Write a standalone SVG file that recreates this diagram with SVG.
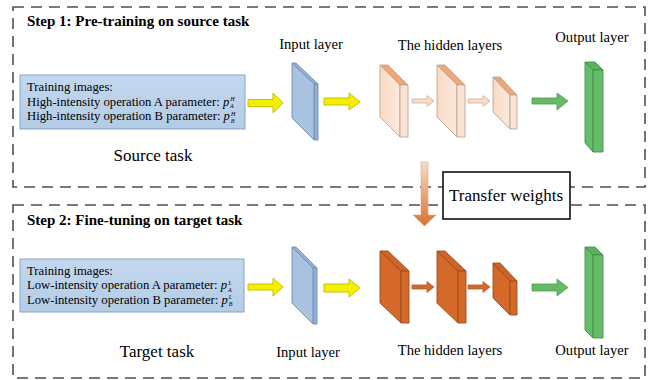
<svg xmlns="http://www.w3.org/2000/svg" width="654" height="380" viewBox="0 0 654 380">
  <defs>
    <linearGradient id="gBox" x1="0" y1="0" x2="0" y2="1">
      <stop offset="0" stop-color="#c3d8ee"/>
      <stop offset="1" stop-color="#b3cce6"/>
    </linearGradient>
    <linearGradient id="gPeach" x1="0" y1="0" x2="1" y2="0">
      <stop offset="0" stop-color="#f9d9c4"/>
      <stop offset="1" stop-color="#fce9dc"/>
    </linearGradient>
    <linearGradient id="gTransfer" x1="0" y1="0" x2="0" y2="1">
      <stop offset="0" stop-color="#f8dcc6"/>
      <stop offset="1" stop-color="#d8722c"/>
    </linearGradient>
  </defs>
  <style>
    text { font-family: "Liberation Serif", "Times New Roman", "DejaVu Serif", serif; fill: #000; }
    .frame { fill: none; stroke: #4f4f4f; stroke-width: 1.6; stroke-dasharray: 11 7; }
    .title { font-weight: bold; font-size: 15px; }
    .lbl { font-size: 14.6px; text-anchor: middle; }
    .task { font-size: 17px; text-anchor: middle; }
    .small { font-size: 12.7px; }
    .it { font-style: italic; }
    .sup { font-style: italic; font-size: 6px; }
    .databox { fill: url(#gBox); stroke: #86a5c8; stroke-width: 1; }
    .inp { fill: #a8c2e0; stroke: #6d8db2; stroke-width: 0.9; stroke-linejoin: round; }
    .inpSide { fill: #93b1d6; stroke: #6d8db2; stroke-width: 0.9; stroke-linejoin: round; }
    .peach { fill: url(#gPeach); stroke: #b9a595; stroke-width: 0.9; stroke-linejoin: round; }
    .peachTop { fill: #f1a774; stroke: #b9a595; stroke-width: 0.9; stroke-linejoin: round; }
    .peachSide { fill: #fbe4d5; stroke: #b9a595; stroke-width: 0.9; stroke-linejoin: round; }
    .org { fill: #d4692a; stroke: #9d4d1d; stroke-width: 0.9; stroke-linejoin: round; }
    .orgTop { fill: #cf6426; stroke: #9d4d1d; stroke-width: 0.9; stroke-linejoin: round; }
    .green { fill: #66bd69; stroke: #4a8c4d; stroke-width: 0.9; stroke-linejoin: round; }
    .greenTop { fill: #5bb25e; stroke: #4a8c4d; stroke-width: 0.9; stroke-linejoin: round; }
    .yel { fill: #f4ef00; stroke: #c9c200; stroke-width: 1; }
    .parrow { fill: #f8dcc8; stroke: #d9bba5; stroke-width: 1; }
    .oarrow { fill: #d4692a; stroke: #b65a22; stroke-width: 0.8; }
    .garrow { fill: #63bb66; stroke: #4f9a52; stroke-width: 0.8; }
  </style>

  <!-- step frames -->
  <g id="frames">
    <rect class="frame" x="13" y="7" width="632" height="180"/>
    <rect class="frame" x="13" y="205" width="632" height="173"/>
  </g>

  <!-- Step 1 -->
  <g id="step1-title">
    <text class="title" x="27" y="26">Step 1: Pre-training on source task</text>
  </g>

  <g id="source-data">
    <rect class="databox" x="20" y="75" width="225" height="54"/>
    <text class="small" x="27" y="91">Training images:</text>
    <text class="small" x="27" y="105.5">High-intensity operation A parameter: <tspan class="it">p</tspan><tspan class="sup" dx="1" dy="-4.5">H</tspan><tspan class="sup" dx="-4.5" dy="7">A</tspan></text>
    <text class="small" x="27" y="120">High-intensity operation B parameter: <tspan class="it">p</tspan><tspan class="sup" dx="1" dy="-4.5">H</tspan><tspan class="sup" dx="-4.5" dy="7">B</tspan></text>
    <text class="task" x="153" y="161">Source task</text>
  </g>

  <g id="source-input">
    <text class="lbl" x="311" y="49">Input layer</text>
    <polygon class="inpSide" points="292,63 296,63 318,84 314,84"/>
    <polygon class="inpSide" points="314,84 318,84 318,140 314,140"/>
    <polygon class="inp" points="292,63 314,84 314,140 292,118"/>
  </g>

  <g id="source-hidden">
    <text class="lbl" x="450" y="50">The hidden layers</text>
    <polygon class="peach" points="380,65 400,85 400,137 380,117"/>
    <polygon class="peachTop" points="380,65 388,65 408,85 400,85"/>
    <polygon class="peachSide" points="400,85 408,85 408,137 400,137"/>

    <polygon class="peach" points="437,65 457,85 457,137 437,117"/>
    <polygon class="peachTop" points="437,65 445,65 465,85 457,85"/>
    <polygon class="peachSide" points="457,85 465,85 465,137 457,137"/>

    <polygon class="peach" points="493,77 510,95 510,129 493,112"/>
    <polygon class="peachTop" points="493,77 500,77 517,95 510,95"/>
    <polygon class="peachSide" points="510,95 517,95 517,129 510,129"/>
  </g>

  <g id="source-output">
    <text class="lbl" x="592" y="42">Output layer</text>
    <polygon class="green" points="585,62 593,70 593,152 585,143"/>
    <polygon class="greenTop" points="585,62 595,62 603,70 593,70"/>
    <polygon class="green" points="593,70 603,70 603,152 593,152"/>
  </g>

  <!-- Step 2 -->
  <g id="step2-title">
    <text class="title" x="27" y="225">Step 2: Fine-tuning on target task</text>
  </g>

  <g id="target-data">
    <rect class="databox" x="20" y="259" width="224" height="53"/>
    <text class="small" x="27" y="274.5">Training images:</text>
    <text class="small" x="27" y="289">Low-intensity operation A parameter: <tspan class="it">p</tspan><tspan class="sup" dx="1" dy="-4.5">L</tspan><tspan class="sup" dx="-3.5" dy="7">A</tspan></text>
    <text class="small" x="27" y="303.5">Low-intensity operation B parameter: <tspan class="it">p</tspan><tspan class="sup" dx="1" dy="-4.5">L</tspan><tspan class="sup" dx="-3.5" dy="7">B</tspan></text>
    <text class="task" x="157" y="357">Target task</text>
  </g>

  <g id="target-input">
    <text class="lbl" x="308" y="357">Input layer</text>
    <polygon class="inpSide" points="292,247 296,247 317,268 313,268"/>
    <polygon class="inpSide" points="313,268 317,268 317,324 313,324"/>
    <polygon class="inp" points="292,247 313,268 313,324 292,303"/>
  </g>

  <g id="target-hidden">
    <text class="lbl" x="450" y="355">The hidden layers</text>
    <polygon class="org" points="380,251 401,271 401,323 380,303"/>
    <polygon class="orgTop" points="380,251 388,251 409,271 401,271"/>
    <polygon class="org" points="401,271 409,271 409,323 401,323"/>

    <polygon class="org" points="437,251 458,271 458,323 437,303"/>
    <polygon class="orgTop" points="437,251 445,251 466,271 458,271"/>
    <polygon class="org" points="458,271 466,271 466,323 458,323"/>

    <polygon class="org" points="493,263 510,281 510,315 493,298"/>
    <polygon class="orgTop" points="493,263 500,263 517,281 510,281"/>
    <polygon class="org" points="510,281 517,281 517,315 510,315"/>
  </g>

  <g id="target-output">
    <text class="lbl" x="592" y="355">Output layer</text>
    <polygon class="green" points="585,247 593,255 593,338 585,330"/>
    <polygon class="greenTop" points="585,247 595,247 603,255 593,255"/>
    <polygon class="green" points="593,255 603,255 603,338 593,338"/>
  </g>

  <!-- connectors -->
  <g id="connectors">
    <!-- step 1 -->
    <polygon class="yel" points="248,99.5 273,99.5 273,93 283,103 273,113 273,106.5 248,106.5"/>
    <polygon class="yel" points="324,98 349,98 349,93 360,102 349,110 349,105 324,105"/>
    <polygon class="parrow" points="412,99 427,99 427,95.5 434,101 427,106.5 427,103 412,103"/>
    <polygon class="parrow" points="468,99 483,99 483,95.5 490,101 483,106.5 483,103 468,103"/>
    <polygon class="garrow" points="532,98 557,98 557,93 568,101 557,110 557,104 532,104"/>
    <!-- step 2 -->
    <polygon class="yel" points="248,284 273,284 273,278 283,287 273,296 273,290 248,290"/>
    <polygon class="yel" points="324,284 349,284 349,279 360,288 349,297 349,292 324,292"/>
    <polygon class="oarrow" points="412,285 427,285 427,281.5 434,287 427,292.5 427,289 412,289"/>
    <polygon class="oarrow" points="468,285 483,285 483,281.5 490,287 483,292.5 483,289 468,289"/>
    <polygon class="garrow" points="532,284 557,284 557,279 568,287.5 557,296 557,291 532,291"/>
    <!-- weight transfer -->
    <polygon fill="url(#gTransfer)" stroke="#e0a77c" stroke-width="0.6" points="421,162 428,162 428,215 436,215 424.5,226 413,215 421,215"/>
  </g>

  <g id="transfer-weights">
    <rect x="443" y="172" width="127" height="47" fill="#fff" stroke="#111" stroke-width="1.6"/>
    <text class="task" x="506" y="201" font-size="17.5">Transfer weights</text>
  </g>
</svg>
